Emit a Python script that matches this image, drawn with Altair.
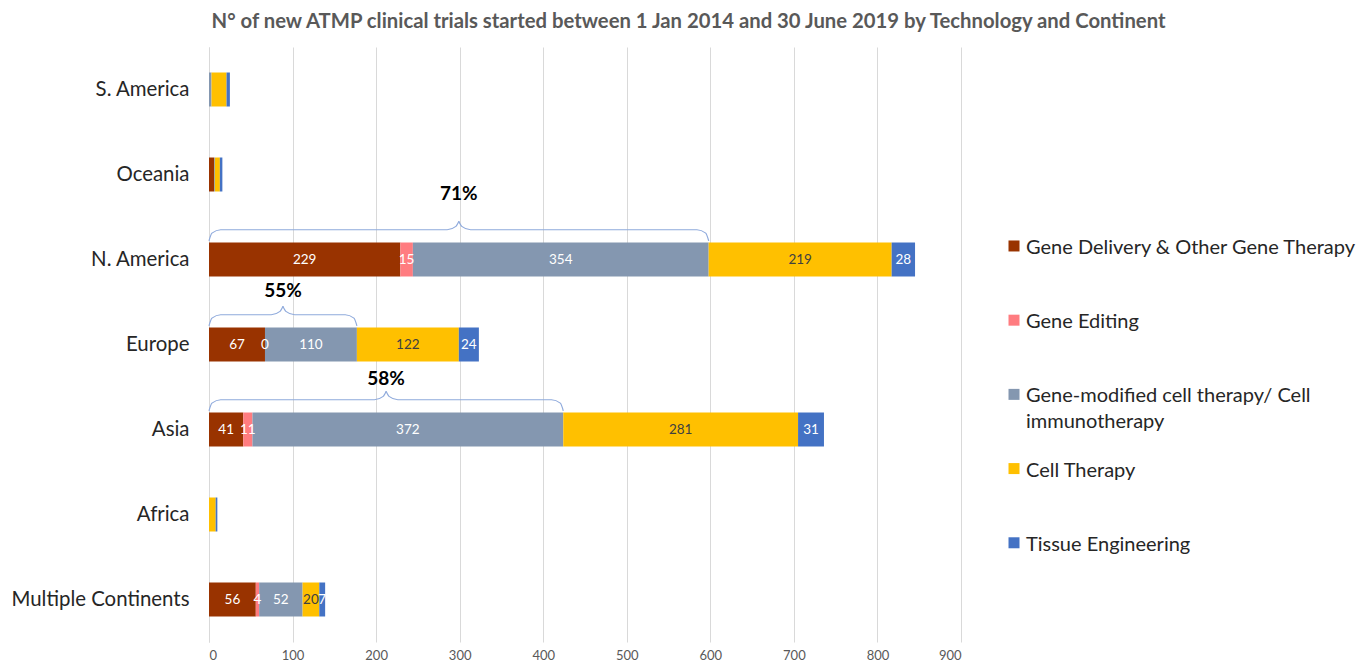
import altair as alt
import pandas as pd

continents = ["S. America", "Oceania", "N. America", "Europe", "Asia", "Africa", "Multiple Continents"]
technologies = [
    "Gene Delivery & Other Gene Therapy",
    "Gene Editing",
    "Gene-modified cell therapy/ Cell immunotherapy",
    "Cell Therapy",
    "Tissue Engineering",
]
colors = ["#993300", "#FF7C80", "#8497B0", "#FFC000", "#4472C4"]

gene_delivery = [0, 6, 229, 67, 41, 0, 56]
gene_editing = [0, 0, 15, 0, 11, 0, 4]
gene_modified = [3, 1, 354, 110, 372, 0, 52]
cell_therapy = [18, 6, 219, 122, 281, 8, 20]
tissue_eng = [4, 3, 28, 24, 31, 2, 7]

labelled = ["N. America", "Europe", "Asia", "Multiple Continents"]
brace_continents = ["N. America", "Europe", "Asia"]
brace_pcts = ["71%", "55%", "58%"]
brace_label_lift = [0.77, 0.63, 0.59]  # label height above band centre (band units)

series = [gene_delivery, gene_editing, gene_modified, cell_therapy, tissue_eng]

rows = []
for ci, cont in enumerate(continents):
    start = 0
    for ti, tech in enumerate(technologies):
        v = series[ti][ci]
        rows.append({
            "continent": cont, "tech": tech, "order": ti, "value": v,
            "start": start, "end": start + v, "mid": start + v / 2,
            "show": cont in labelled,
        })
        start += v
df = pd.DataFrame(rows)

# brace geometry derived from the first three segments
brace_rows = []
label_rows = []
r = 14
for bi, cont in enumerate(brace_continents):
    ci = continents.index(cont)
    c = ci + 0.5
    end = gene_delivery[ci] + gene_editing[ci] + gene_modified[ci]
    mid = end / 2
    pts = [
        (0, c - 0.22), (r * 0.25, c - 0.31), (r, c - 0.35),
        (mid - r, c - 0.35), (mid - r * 0.25, c - 0.39), (mid, c - 0.45),
    ]
    pts2 = [
        (mid, c - 0.45), (mid + r * 0.25, c - 0.39), (mid + r, c - 0.35),
        (end - r, c - 0.35), (end - r * 0.25, c - 0.31), (end, c - 0.22),
    ]
    for k, (x, y) in enumerate(pts):
        brace_rows.append({"brace": f"{cont}-a", "k": k, "x": x, "y": y})
    for k, (x, y) in enumerate(pts2):
        brace_rows.append({"brace": f"{cont}-b", "k": k, "x": x, "y": y})
    label_rows.append({"x": mid, "y": c - brace_label_lift[bi], "text": brace_pcts[bi]})
braces = pd.DataFrame(brace_rows)
blabels = pd.DataFrame(label_rows)

FONT = "Lato"
MULTI = "Gene-modified cell therapy/ Cell immunotherapy"

xscale = alt.Scale(domain=[0, 900], nice=False)
yband = alt.Y(
    "continent:N", sort=continents, title=None,
    scale=alt.Scale(paddingInner=0.6, paddingOuter=0.3),
    axis=alt.Axis(ticks=False, domain=True, domainColor="#D9D9D9", labelPadding=20,
                  labelFontSize=20.4, labelColor="#262626", labelFont=FONT,
                  minExtent=201, maxExtent=201, labelLimit=300),
)
xenc = alt.X(
    "start:Q", scale=xscale, title=None,
    axis=alt.Axis(values=list(range(0, 901, 100)), grid=True, gridColor="#D9D9D9",
                  ticks=False, domain=False, labelFontSize=13, labelColor="#595959",
                  labelFont=FONT, labelPadding=7),
)

bars = alt.Chart(df).mark_bar().encode(
    x=xenc,
    x2="end:Q",
    y=yband,
    color=alt.Color(
        "tech:N",
        scale=alt.Scale(domain=technologies, range=colors),
        legend=alt.Legend(
            title=None, orient="none", legendX=795, legendY=181, padding=0,
            symbolType="M-1,0.45H1V2.45H-1Z", symbolSize=121, symbolStrokeWidth=0,
            labelFontSize=20, labelFont=FONT, labelColor="#262626", labelLimit=500,
            labelOffset=2, rowPadding=18.2, gridAlign="all", labelBaseline="top",
            labelExpr=f"datum.label == '{MULTI}' ? ['Gene-modified cell therapy/ Cell', 'immunotherapy'] : datum.label",
        ),
    ),
    order=alt.Order("order:Q"),
)

texts = alt.Chart(df).transform_filter("datum.show").mark_text(
    fontSize=13.5, font=FONT, baseline="middle", align="center"
).encode(
    x=alt.X("mid:Q", scale=xscale),
    y=alt.Y("continent:N", sort=continents),
    text="value:Q",
    color=alt.condition(alt.datum.tech == "Cell Therapy", alt.value("#404040"), alt.value("#FFFFFF")),
)

yq = alt.Y("y:Q", scale=alt.Scale(domain=[0, 7], reverse=True, nice=False), axis=None)
brace_lines = alt.Chart(braces).mark_line(
    color="#8FAADC", strokeWidth=1.2, interpolate="monotone"
).encode(
    x=alt.X("x:Q", scale=xscale),
    y=yq,
    detail="brace:N",
    order="k:Q",
)
brace_text = alt.Chart(blabels).mark_text(
    fontSize=19, fontWeight="bold", font=FONT, color="#000000", baseline="middle"
).encode(
    x=alt.X("x:Q", scale=xscale),
    y=yq,
    text="text:N",
)

band_layer = alt.layer(bars, texts)
annot_layer = alt.layer(brace_lines, brace_text)

chart = alt.layer(band_layer, annot_layer).resolve_scale(y="independent").properties(
    width=752, height=595,
    padding={"left": 0, "top": 3, "right": 0, "bottom": 0},
    title=alt.TitleParams(
        "N° of new ATMP clinical trials started between 1 Jan 2014 and 30 June 2019 by Technology and Continent",
        font=FONT, fontSize=20.3, fontWeight="bold", color="#595959",
        anchor="middle", frame="bounds", offset=15, dx=6,
    ),
).configure(style={"guide-label": {"lineHeight": 26}}).configure_view(stroke=None)

chart.save("out.html", embed_options={"renderer": "svg", "actions": False})
